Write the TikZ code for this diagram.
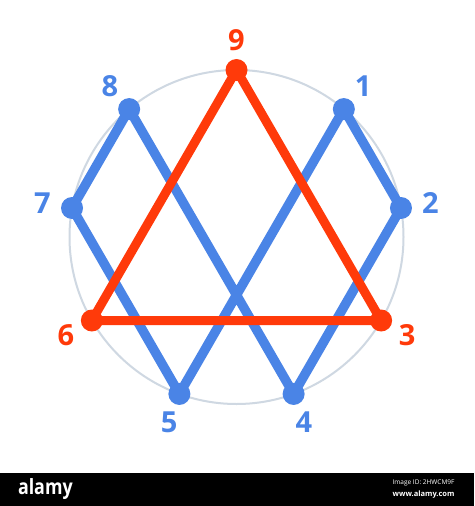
\documentclass[tikz,border=0pt]{standalone}
\usepackage{fontspec}
\setmainfont{Open Sans}
\definecolor{eblue}{HTML}{4A84E6}
\definecolor{ered}{HTML}{FF3A0A}
\definecolor{ering}{HTML}{CFD8E2}
\begin{document}
\begin{tikzpicture}[x=1pt,y=1pt,
  ring/.style={draw=ering,line width=2pt},
  bline/.style={draw=eblue,line width=9.5pt,line join=round},
  rline/.style={draw=ered,line width=9pt,line join=round},
  bdot/.style={circle,fill=eblue,minimum size=22pt,inner sep=0pt},
  rdot/.style={circle,fill=ered,minimum size=22pt,inner sep=0pt},
  blab/.style={text=eblue,font=\fontsize{29}{29}\selectfont\bfseries},
  rlab/.style={text=ered,font=\fontsize{29}{29}\selectfont\bfseries}]
\useasboundingbox (0,0) rectangle (474,-506);
\fill[white] (0,0) rectangle (474,-506);
\coordinate (O) at (236.5,-237);
\foreach \k in {1,...,9}{
  \coordinate (c\k) at ({236.5+167*cos(90-40*\k)},{-237+167*sin(90-40*\k)});
  \coordinate (t\k) at ({236.5+197*cos(90-40*\k)},{-237+197*sin(90-40*\k)});
}
\draw[ring] (O) circle (167);
% blue hexad 1-2-4-8-7-5-1
\draw[bline] (c1) -- (c2) -- (c4) -- (c8) -- (c7) -- (c5) -- cycle;
% red triangle
\draw[rline] (c9) -- (c3) -- (c6) -- cycle;
\foreach \k in {1,2,4,5,7,8}{
  \node[bdot] (p\k) at (c\k) {};
  \node[blab] (l\k) at (t\k) {\k};
}
\foreach \k in {3,6,9}{
  \node[rdot] (p\k) at (c\k) {};
  \node[rlab] (l\k) at (t\k) {\k};
}
% stock banner
\fill[black] (0,-473) rectangle (474,-506);
\node[text=white,font=\fontsize{21}{21}\selectfont\bfseries,anchor=west,xscale=0.85] (brand) at (15,-489) {alamy};
\node[text=white,font=\fontsize{6.5}{7}\selectfont,anchor=east] (imgid) at (458,-483) {Image ID: 2HWCM9F};
\node[text=white,font=\fontsize{7.5}{8}\selectfont\bfseries,anchor=east] (site) at (458,-495) {www.alamy.com};
\end{tikzpicture}
\end{document}
